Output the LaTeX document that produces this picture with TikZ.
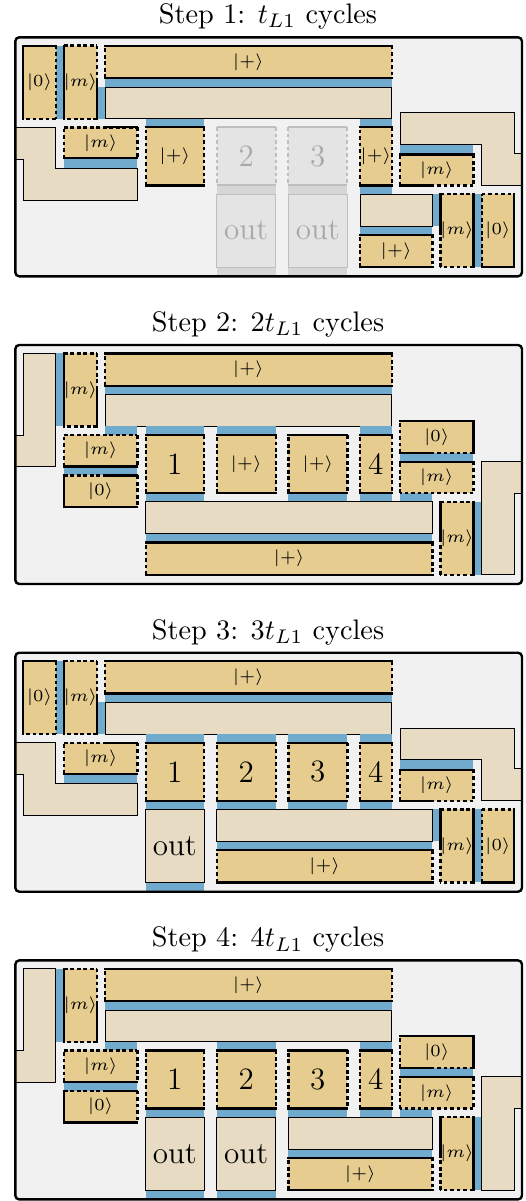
\documentclass[tikz,border=0pt]{standalone}
\usepackage{amsmath}
\usepackage{tikz}
\usetikzlibrary{calc}
\definecolor{patchc}{RGB}{230,205,143}
\definecolor{tanc}{RGB}{231,219,195}
\definecolor{bluec}{RGB}{112,170,204}
\definecolor{bgc}{RGB}{241,241,241}
\definecolor{ghostc}{RGB}{228,228,228}
\definecolor{ghostl}{RGB}{190,190,190}
\definecolor{ghosts}{RGB}{214,214,214}
\definecolor{ghostt}{RGB}{168,168,168}
\newcommand{\numf}{\fontsize{11}{13}\selectfont}
% gold patch: name, corners, top/right/bottom/left edge styles, label
\def\qpatch[#1](#2)(#3)#4#5#6#7#8{%
  \fill[patchc] (#2) rectangle (#3);
  \draw[#4] (#2) -- (#2 -| #3); \draw[#5] (#2 -| #3) -- (#3);
  \draw[#6] (#3) -- (#2 |- #3); \draw[#7] (#2 |- #3) -- (#2);
  \node[lbl] (#1) at ($(#2)!.5!(#3)$) {#8};}
\newcommand{\frameit}[2]{%
  \fill[bgc,rounded corners=1.4pt] (15.3,37.3) rectangle (522,276.3);
  \node[ttl] (#1) at (268,23.7) {#2};}
\newcommand{\topbar}[1]{%
  \fill[bluec] (105,78) rectangle (391.7,87);
  \draw[tanbox] (105,87) rectangle (391.7,118.7);
  \qpatch[#1plus](105,45.7)(391.7,78){sb}{db}{sb}{db}{$|+\rangle$}}
\newcommand{\cfgA}[1]{%
  \fill[bluec] (55.7,45.7) rectangle (64,118.7);
  \fill[bluec] (97,87) rectangle (105,118.7);
  \fill[bluec] (64,158.3) rectangle (137.3,168.3);
  \draw[tanbox] (15.7,127.3) -- (55.7,127.3) -- (55.7,168.3) -- (137.3,168.3) -- (137.3,200) -- (23.3,200) -- (23.3,159.5) -- (15.7,159.5) -- cycle;
  \qpatch[#1za](23.3,45.7)(55.7,118.7){sb}{db}{db}{sb}{$|0\rangle$}
  \qpatch[#1ma](64,45.7)(97,118.7){db}{db}{db}{sb}{$|m\rangle$}
  \draw[sb] (97,82) -- (97,118.7);
  \qpatch[#1mb](64,127.3)(137.3,158.3){db}{db}{sb}{db}{$|m\rangle$}
  \draw[sb] (105,127.3) -- (137.3,127.3);
  \fill[bluec] (400.1,144.4) rectangle (473.4,154.4);
  \fill[bluec] (473.4,194) rectangle (481.7,267);
  \fill[bluec] (432.4,194) rectangle (440.4,226);
  \draw[tanbox] (521.7,185.4) -- (481.7,185.4) -- (481.7,144.4) -- (400.1,144.4) -- (400.1,112.7) -- (514.1,112.7) -- (514.1,153.2) -- (521.7,153.2) -- cycle;
  \qpatch[#1mc](400.1,154.4)(473.4,185.4){sb}{db}{db}{db}{$|m\rangle$}
  \draw[sb] (400.1,185.4) -- (432.4,185.4);
  \qpatch[#1md](440.4,194)(473.4,267){db}{sb}{db}{db}{$|m\rangle$}
  \draw[sb] (440.4,194) -- (440.4,230.7);
  \qpatch[#1zb](481.7,194)(514.1,267){db}{sb}{sb}{db}{$|0\rangle$}}
\newcommand{\cfgB}[1]{%
  \fill[bluec] (55.7,45.7) rectangle (64,118.7);
  \fill[bluec] (105,118.7) rectangle (137.3,127.3);
  \fill[bluec] (64,158.7) rectangle (137.3,167.7);
  \draw[tanbox] (23.3,45.7) -- (55.7,45.7) -- (55.7,159) -- (15.7,159) -- (15.7,127.3) -- (23.3,127.3) -- cycle;
  \qpatch[#1ma](64,45.7)(97,118.7){db}{db}{db}{sb}{$|m\rangle$}
  \draw[sb] (97,82) -- (97,118.7);
  \qpatch[#1mb](64,127.3)(137.3,158.7){db}{db}{sb}{db}{$|m\rangle$}
  \qpatch[#1za](64,167.7)(137.3,199.5){db}{db}{sb}{sb}{$|0\rangle$}
  \draw[sb] (105,167.7) -- (137.3,167.7);
  \fill[bluec] (473.4,194) rectangle (481.7,267);
  \fill[bluec] (400.1,185.4) rectangle (432.4,194);
  \fill[bluec] (400.1,145) rectangle (473.4,154);
  \draw[tanbox] (514.1,267) -- (481.7,267) -- (481.7,153.7) -- (521.7,153.7) -- (521.7,185.4) -- (514.1,185.4) -- cycle;
  \qpatch[#1mc](440.4,194)(473.4,267){db}{sb}{db}{db}{$|m\rangle$}
  \draw[sb] (440.4,194) -- (440.4,230.7);
  \qpatch[#1md](400.1,154)(473.4,185.4){sb}{db}{db}{db}{$|m\rangle$}
  \qpatch[#1zb](400.1,113.2)(473.4,145){sb}{sb}{db}{db}{$|0\rangle$}
  \draw[sb] (400.1,145) -- (432.4,145);}
\newcommand{\ghost}[3]{%
  \fill[ghostc] (#1,127.3) rectangle (#2,185.4);
  \fill[ghosts] (#1,185.4) rectangle (#2,194);
  \fill[ghosts] (#1,267) rectangle (#2,276.3);
  \draw[gthin,fill=ghostc] (#1,194) rectangle (#2,267);
  \draw[gs] (#1,127.3) -- (#2,127.3); \draw[gs] (#1,185.4) -- (#2,185.4);
  \draw[gd] (#1,127.3) -- (#1,185.4); \draw[gd] (#2,127.3) -- (#2,185.4);
  \node[lbl,ghostt] (g#3) at ({(#1+#2)/2},156.3) {\numf #3};
  \node[lbl,ghostt] (g#3out) at ({(#1+#2)/2},230.5) {\numf out};}
\newcommand{\outbox}[3]{%
  \fill[bluec] (#1,267.3) rectangle (#2,276.3);
  \draw[tanbox] (#1,194) rectangle (#2,267.3);
  \node[lbl] (#3) at ({(#1+#2)/2},230.5) {\numf out};}

\begin{document}
\begin{tikzpicture}[x=0.354pt, y=-0.354pt,
  sb/.style={line width=0.8pt, line cap=rect},
  db/.style={line width=0.85pt, dash pattern=on 1.3pt off 1pt},
  tanbox/.style={fill=tanc, draw=black, line width=0.35pt},
  gs/.style={draw=ghostl, line width=0.75pt},
  gd/.style={gs, dash pattern=on 1.3pt off 1pt},
  gthin/.style={draw=ghostl, line width=0.35pt},
  lbl/.style={font=\fontsize{5.7}{6}\selectfont, inner sep=0pt},
  ttl/.style={anchor=base, inner sep=0pt},
  frame/.style={draw=black, line width=0.85pt, rounded corners=1.4pt}]
\useasboundingbox (0,0) rectangle (525,1201);

% step 1
\frameit{t1}{Step 1: $t_{L1}$ cycles}
\topbar{s1}
\cfgA{s1}
\foreach \a/\b in {145.7/204,360/391.7} \fill[bluec] (\a,118.7) rectangle (\b,127.3);
\fill[bluec] (360,185.4) rectangle (391.7,194);
\fill[bluec] (360,226) rectangle (432.4,234.7);
\draw[tanbox] (360,194) rectangle (432.4,226);
\qpatch[s1pa](145.7,127.3)(204,185.4){sb}{db}{sb}{db}{$|+\rangle$}
\qpatch[s1pb](360,127.3)(391.7,185.4){sb}{db}{sb}{db}{$|+\rangle$}
\qpatch[s1pc](360,234.7)(432.4,267){sb}{db}{sb}{db}{$|+\rangle$}
\ghost{216.7}{275.7}{2}
\ghost{288.3}{347.3}{3}
\draw[frame] (15.3,37.3) rectangle (522,276.3);

% step 2
\begin{scope}[shift={(0,307.7)}]
\frameit{t2}{Step 2: $2t_{L1}$ cycles}
\topbar{s2}
\cfgB{s2}
\foreach \a/\b in {145.7/204,216.7/275.7,360/391.7} \fill[bluec] (\a,118.7) rectangle (\b,127.3);
\foreach \a/\b in {145.7/204,288.3/347.3,360/391.7} \fill[bluec] (\a,185.4) rectangle (\b,194);
\fill[bluec] (145.7,226) rectangle (432.4,234.7);
\draw[tanbox] (145.7,194) rectangle (432.4,226);
\qpatch[s2n1](145.7,127.3)(204,185.4){sb}{db}{sb}{db}{\numf 1}
\qpatch[s2pa](216.7,127.3)(275.7,185.4){sb}{db}{sb}{db}{$|+\rangle$}
\qpatch[s2pb](288.3,127.3)(347.3,185.4){sb}{db}{sb}{db}{$|+\rangle$}
\qpatch[s2n4](360,127.3)(391.7,185.4){sb}{db}{sb}{db}{\numf 4}
\qpatch[s2pc](145.7,234.7)(432.4,267){sb}{db}{sb}{db}{$|+\rangle$}
\draw[frame] (15.3,37.3) rectangle (522,276.3);
\end{scope}

% step 3
\begin{scope}[shift={(0,615.4)}]
\frameit{t3}{Step 3: $3t_{L1}$ cycles}
\topbar{s3}
\cfgA{s3}
\foreach \a/\b in {145.7/204,216.7/275.7,288.3/347.3,360/391.7} {
  \fill[bluec] (\a,118.7) rectangle (\b,127.3);
  \fill[bluec] (\a,185.4) rectangle (\b,194);}
\fill[bluec] (216.7,226) rectangle (432.4,234.7);
\draw[tanbox] (216.7,194) rectangle (432.4,226);
\foreach \a/\b/\n in {145.7/204/1,216.7/275.7/2,288.3/347.3/3,360/391.7/4}
  {\qpatch[s3n\n](\a,127.3)(\b,185.4){sb}{db}{sb}{db}{\numf\n}}
\outbox{145.7}{204}{s3out}
\qpatch[s3pa](216.7,234.7)(432.4,267){sb}{db}{sb}{db}{$|+\rangle$}
\draw[frame] (15.3,37.3) rectangle (522,276.3);
\end{scope}

% step 4
\begin{scope}[shift={(0,923.1)}]
\frameit{t4}{Step 4: $4t_{L1}$ cycles}
\topbar{s4}
\cfgB{s4}
\foreach \a/\b in {216.7/275.7,360/391.7} \fill[bluec] (\a,118.7) rectangle (\b,127.3);
\foreach \a/\b in {145.7/204,216.7/275.7,288.3/347.3,360/391.7} \fill[bluec] (\a,185.4) rectangle (\b,194);
\fill[bluec] (288.3,226) rectangle (432.4,234.7);
\draw[tanbox] (288.3,194) rectangle (432.4,226);
\foreach \a/\b/\n in {145.7/204/1,216.7/275.7/2,288.3/347.3/3,360/391.7/4}
  {\qpatch[s4n\n](\a,127.3)(\b,185.4){sb}{db}{sb}{db}{\numf\n}}
\outbox{145.7}{204}{s4outa}
\outbox{216.7}{275.7}{s4outb}
\qpatch[s4pa](288.3,234.7)(432.4,267){sb}{db}{sb}{db}{$|+\rangle$}
\draw[frame] (15.3,37.3) rectangle (522,276.3);
\end{scope}
\end{tikzpicture}
\end{document}
